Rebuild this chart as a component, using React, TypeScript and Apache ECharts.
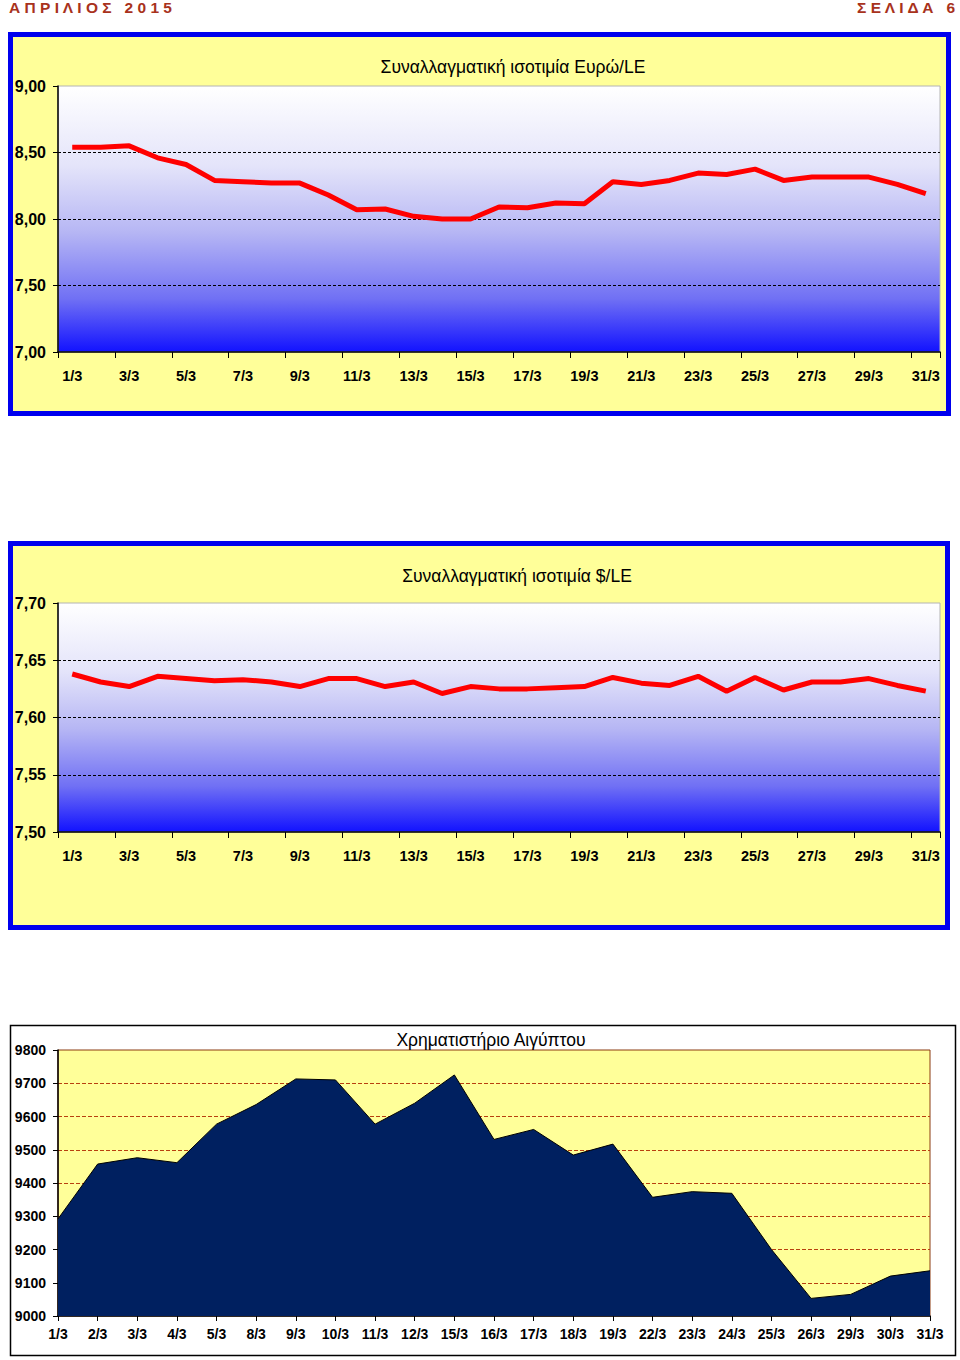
import { useEffect, useRef } from 'react';
import * as echarts from 'echarts';

const eurDates = ['1/3','2/3','3/3','4/3','5/3','6/3','7/3','8/3','9/3','10/3','11/3','12/3','13/3','14/3','15/3','16/3','17/3','18/3','19/3','20/3','21/3','22/3','23/3','24/3','25/3','26/3','27/3','28/3','29/3','30/3','31/3'];
const eurValues = [8.54,8.54,8.55,8.46,8.41,8.29,8.28,8.27,8.27,8.18,8.07,8.075,8.02,8.0,8.0,8.09,8.085,8.12,8.115,8.28,8.26,8.29,8.345,8.335,8.375,8.29,8.315,8.315,8.315,8.26,8.19];
const usdValues = [7.638,7.631,7.627,7.636,7.634,7.632,7.633,7.631,7.627,7.634,7.634,7.627,7.631,7.621,7.627,7.625,7.625,7.626,7.627,7.635,7.630,7.628,7.636,7.623,7.635,7.624,7.631,7.631,7.634,7.628,7.623];
const egxDates = ['1/3','2/3','3/3','4/3','5/3','8/3','9/3','10/3','11/3','12/3','15/3','16/3','17/3','18/3','19/3','22/3','23/3','24/3','25/3','26/3','29/3','30/3','31/3'];
const egxValues = [9292,9457,9476,9461,9577,9636,9713,9710,9577,9640,9725,9531,9561,9484,9517,9357,9374,9369,9200,9053,9065,9120,9136];

const eurRange = { min: 7, max: 9, step: 0.5 };
const usdRange = { min: 7.5, max: 7.7, step: 0.05 };
const egxRange = { min: 9000, max: 9800, step: 100 };

const FONT = 'Liberation Sans, Arial, Helvetica, sans-serif';
const comma = (v: number) => v.toFixed(2).replace('.', ',');

const gradient = {
  type: 'linear', x: 0, y: 0, x2: 0, y2: 1,
  colorStops: [
    { offset: 0, color: '#ffffff' },
    { offset: 0.3, color: '#e4e4fa' },
    { offset: 0.55, color: '#b6b6f4' },
    { offset: 0.8, color: '#7070f4' },
    { offset: 1, color: '#1212ff' },
  ],
};

function blueX(gridIndex: number) {
  return {
    type: 'category', gridIndex, data: eurDates, boundaryGap: true,
    axisLine: { show: true, lineStyle: { color: '#000', width: 1.5 } },
    axisTick: { show: true, interval: 1, length: 6, lineStyle: { color: '#000' } },
    axisLabel: { interval: 1, margin: 16, color: '#000', fontWeight: 'bold', fontSize: 14.5, fontFamily: FONT },
    splitLine: { show: false },
  };
}

function blueY(gridIndex: number, r: { min: number; max: number; step: number }) {
  return {
    type: 'value', gridIndex, min: r.min, max: r.max, interval: r.step,
    axisLine: { show: true, lineStyle: { color: '#000', width: 1.5 } },
    axisTick: { show: true, length: 5, lineStyle: { color: '#000' } },
    axisLabel: { margin: 12, color: '#000', fontWeight: 'bold', fontSize: 16, fontFamily: FONT, formatter: comma },
    splitLine: { show: true, showMinLine: false, showMaxLine: false, lineStyle: { color: '#000', type: [3, 2], width: 1 } },
  };
}

export default function App() {
  const ref = useRef<HTMLDivElement>(null);
  useEffect(() => {
    if (!ref.current) return;
    const chart = echarts.init(ref.current, null, { renderer: 'svg' });
    const option: any = {
      animation: false,
      textStyle: { fontFamily: FONT },
      graphic: [
        { type: 'rect', z: -10, shape: { x: 10.5, y: 34.5, width: 938, height: 379 }, style: { fill: '#ffff99', stroke: '#0000ee', lineWidth: 5 } },
        { type: 'rect', z: -10, shape: { x: 10.5, y: 543.5, width: 937, height: 384 }, style: { fill: '#ffff99', stroke: '#0000ee', lineWidth: 5 } },
        { type: 'rect', z: -10, shape: { x: 10.5, y: 1025.5, width: 945, height: 330 }, style: { fill: '#ffffff', stroke: '#000000', lineWidth: 1.5 } },
        { type: 'text', z: 10, style: { x: 9, y: 7, text: 'Α Π Ρ Ι Λ Ι Ο Σ   2 0 1 5', font: `bold 15.5px ${FONT}`, fill: '#a8321c', textVerticalAlign: 'middle' } },
        { type: 'text', z: 10, style: { x: 955, y: 7, text: 'Σ Ε Λ Ι Δ Α   6', font: `bold 15.5px ${FONT}`, fill: '#a8321c', textAlign: 'right', textVerticalAlign: 'middle' } },
        { type: 'text', z: 10, style: { x: 513, y: 67, text: 'Συναλλαγματική ισοτιμία Ευρώ/LE', font: `17.5px ${FONT}`, fill: '#000', textAlign: 'center', textVerticalAlign: 'middle' } },
        { type: 'text', z: 10, style: { x: 517, y: 576, text: 'Συναλλαγματική ισοτιμία $/LE', font: `17.5px ${FONT}`, fill: '#000', textAlign: 'center', textVerticalAlign: 'middle' } },
        { type: 'text', z: 10, style: { x: 491, y: 1040, text: 'Χρηματιστήριο Αιγύπτου', font: `17.5px ${FONT}`, fill: '#000', textAlign: 'center', textVerticalAlign: 'middle' } },
      ],
      grid: [
        { left: 58, top: 86, width: 882, height: 266, show: true, backgroundColor: gradient, borderColor: '#b4b4b4', borderWidth: 1 },
        { left: 58, top: 603, width: 882, height: 229, show: true, backgroundColor: gradient, borderColor: '#b4b4b4', borderWidth: 1 },
        { left: 58, top: 1050, width: 872, height: 266, show: true, backgroundColor: '#ffff99', borderColor: '#8b3a10', borderWidth: 1 },
      ],
      xAxis: [
        blueX(0),
        blueX(1),
        {
          type: 'category', gridIndex: 2, data: egxDates, boundaryGap: false,
          axisLine: { show: true, lineStyle: { color: '#000', width: 1.5 } },
          axisTick: { show: true, interval: 0, length: 5, lineStyle: { color: '#000' } },
          axisLabel: { interval: 0, margin: 11, color: '#000', fontWeight: 'bold', fontSize: 14, fontFamily: FONT },
          splitLine: { show: false },
        },
      ],
      yAxis: [
        blueY(0, eurRange),
        blueY(1, usdRange),
        {
          type: 'value', gridIndex: 2, min: egxRange.min, max: egxRange.max, interval: egxRange.step,
          axisLine: { show: true, lineStyle: { color: '#000', width: 1.5 } },
          axisTick: { show: true, length: 5, lineStyle: { color: '#000' } },
          axisLabel: { margin: 12, color: '#000', fontWeight: 'bold', fontSize: 14, fontFamily: FONT, formatter: (v: number) => String(v) },
          splitLine: { show: true, showMinLine: false, showMaxLine: false, lineStyle: { color: '#b8400f', type: [4, 2], width: 1 } },
        },
      ],
      series: [
        { type: 'line', xAxisIndex: 0, yAxisIndex: 0, data: eurValues, symbol: 'none', lineStyle: { color: '#ff0000', width: 5 } },
        { type: 'line', xAxisIndex: 1, yAxisIndex: 1, data: usdValues, symbol: 'none', lineStyle: { color: '#ff0000', width: 5 } },
        { type: 'line', xAxisIndex: 2, yAxisIndex: 2, data: egxValues, symbol: 'none', lineStyle: { color: '#000', width: 1 }, areaStyle: { color: '#002060', opacity: 1, origin: 'start' } },
      ],
    };
    chart.setOption(option);
    return () => chart.dispose();
  }, []);
  return <div ref={ref} style={{ position: 'absolute', left: 0, top: 0, width: 960, height: 1360 }} />;
}
